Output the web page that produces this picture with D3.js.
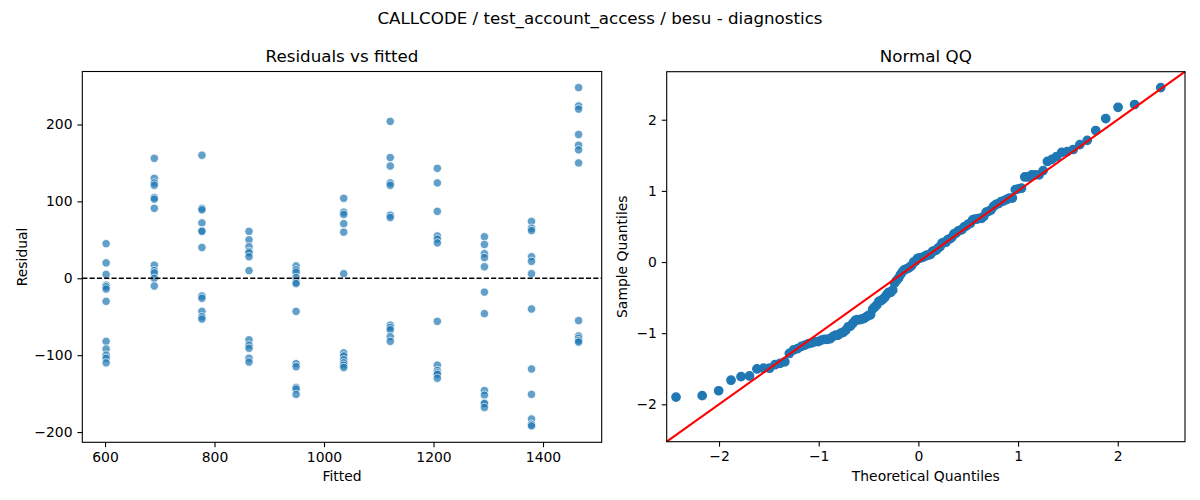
<!DOCTYPE html>
<html>
<head>
<meta charset="utf-8">
<script src="https://cdn.jsdelivr.net/npm/d3@7"></script>
<style>
  body { margin: 0; background: #fff; }
  text { font-family: "DejaVu Sans", sans-serif; fill: #000; }
</style>
</head>
<body>
<div id="chart"></div>
<script>
// Fitted levels (x positions of the residual columns)
const fitted = [602, 690, 777, 863, 949, 1036, 1121, 1207, 1293, 1379, 1465];

// Residuals at each fitted level
const residuals = [
  [45, 20, 5, -9, -11, -14, -30, -82, -92, -100, -104, -110],
  [156, 130, 124, 121, 105, 103, 91, 17, 10, 7, 0, -10],
  [160, 91, 89, 72, 62, 61, 40, -23, -26, -43, -50, -53],
  [61, 50, 41, 35, 33, 28, 10, -80, -87, -91, -104, -109],
  [16, 11, 8, 1, -5, -7, -43, -111, -115, -142, -144, -151],
  [104, 86, 83, 71, 60, 6, -97, -101, -106, -110, -113, -116],
  [204, 157, 146, 124, 121, 82, 79, -61, -64, -67, -76, -82],
  [143, 124, 87, 55, 51, 46, -56, -113, -120, -123, -125, -130],
  [54, 44, 32, 27, 15, -18, -46, -146, -152, -162, -163, -168],
  [74, 65, 62, 28, 22, 6, -40, -118, -151, -183, -190, -192],
  [248, 224, 220, 187, 173, 167, 150, -55, -75, -78, -81, -83]
];

// Tick labels
const residXTicks = [600, 800, 1000, 1200, 1400];
const residYTicks = [-200, -100, 0, 100, 200];
const qqTicks = [-2, -1, 0, 1, 2];

const title = 'CALLCODE / test_account_access / besu - diagnostics';

// Flatten residuals into points
const points = [];
fitted.forEach((f, i) => residuals[i].forEach(r => points.push({ fitted: f, resid: r })));

// Normal QQ: scaled sorted residuals vs normal quantiles
function normInv(p) {
  const a = [-3.969683028665376e+01, 2.209460984245205e+02, -2.759285104469687e+02, 1.383577518672690e+02, -3.066479806614716e+01, 2.506628277459239e+00];
  const b = [-5.447609879822406e+01, 1.615858368580409e+02, -1.556989798598866e+02, 6.680131188771972e+01, -1.328068155288572e+01];
  const c = [-7.784894002430293e-03, -3.223964580411365e-01, -2.400758277161838e+00, -2.549732539343734e+00, 4.374664141464968e+00, 2.938163982698783e+00];
  const d = [7.784695709041462e-03, 3.224671290700398e-01, 2.445134137142996e+00, 3.754408661907416e+00];
  const plow = 0.02425;
  let q, r;
  if (p < plow) {
    q = Math.sqrt(-2 * Math.log(p));
    return (((((c[0] * q + c[1]) * q + c[2]) * q + c[3]) * q + c[4]) * q + c[5]) /
      ((((d[0] * q + d[1]) * q + d[2]) * q + d[3]) * q + 1);
  } else if (p <= 1 - plow) {
    q = p - 0.5; r = q * q;
    return (((((a[0] * r + a[1]) * r + a[2]) * r + a[3]) * r + a[4]) * r + a[5]) * q /
      (((((b[0] * r + b[1]) * r + b[2]) * r + b[3]) * r + b[4]) * r + 1);
  }
  q = Math.sqrt(-2 * Math.log(1 - p));
  return -(((((c[0] * q + c[1]) * q + c[2]) * q + c[3]) * q + c[4]) * q + c[5]) /
    ((((d[0] * q + d[1]) * q + d[2]) * q + d[3]) * q + 1);
}

const allResid = points.map(d => d.resid).sort(d3.ascending);
const n = allResid.length;
// residual scale (root mean square, residuals are centred on zero)
const scale = Math.sqrt(d3.sum(allResid, r => r * r) / n);
const qq = allResid.map((r, i) => ({ theo: normInv((i + 1) / (n + 1)), sample: r / scale }));

// SVG
const svgWidth = 1200, svgHeight = 500;
const svg = d3.select('#chart').append('svg')
  .attr('width', svgWidth).attr('height', svgHeight);

const blue = '#1f77b4';
const tickFont = '13.9px';

svg.append('text')
  .attr('x', 600).attr('y', 24)
  .attr('text-anchor', 'middle')
  .style('font-size', '16.7px')
  .text(title);

function styleAxis(g) {
  g.select('.domain').remove();
  g.selectAll('.tick line').attr('stroke', '#000').attr('stroke-width', 1.1);
  g.selectAll('.tick text')
    .style('font-size', tickFont)
    .style('font-family', '"DejaVu Sans", sans-serif')
    .attr('fill', '#000');
}

function frame(box, titleText, xLabel, yLabel, yLabelX) {
  const cx = (box.x0 + box.x1) / 2;
  svg.append('text')
    .attr('x', cx).attr('y', 62)
    .attr('text-anchor', 'middle')
    .style('font-size', '16.7px')
    .text(titleText);
  svg.append('text')
    .attr('x', cx).attr('y', 481)
    .attr('text-anchor', 'middle')
    .style('font-size', tickFont)
    .text(xLabel);
  svg.append('text')
    .attr('transform', `translate(${yLabelX}, ${(box.y0 + box.y1) / 2}) rotate(-90)`)
    .attr('text-anchor', 'middle')
    .style('font-size', tickFont)
    .text(yLabel);
}

function spine(box) {
  svg.append('rect')
    .attr('x', box.x0).attr('y', box.y0)
    .attr('width', box.x1 - box.x0).attr('height', box.y1 - box.y0)
    .attr('fill', 'none').attr('stroke', '#000').attr('stroke-width', 1.1);
}

// ---- Left panel: residuals vs fitted
const L = { x0: 82.3, x1: 601.7, y0: 71.5, y1: 442.3 };
const xRes = d3.scaleLinear().domain([558.5, 1507.2]).range([L.x0, L.x1]);
const yRes = d3.scaleLinear().domain([-213.3, 268.9]).range([L.y1, L.y0]);

svg.append('g')
  .attr('transform', `translate(0, ${L.y1})`)
  .call(d3.axisBottom(xRes).tickValues(residXTicks).tickSize(4.9).tickPadding(4.9).tickFormat(d3.format('d')))
  .call(styleAxis);
svg.append('g')
  .attr('transform', `translate(${L.x0}, 0)`)
  .call(d3.axisLeft(yRes).tickValues(residYTicks).tickSize(4.9).tickPadding(4.9).tickFormat(d3.format('d')))
  .call(styleAxis);

svg.append('g')
  .selectAll('circle')
  .data(points)
  .enter()
  .append('circle')
  .attr('cx', d => xRes(d.fitted))
  .attr('cy', d => yRes(d.resid))
  .attr('r', 4.17)
  .attr('fill', blue).attr('fill-opacity', 0.7)
  .attr('stroke', '#fff').attr('stroke-opacity', 0.7).attr('stroke-width', 1);

svg.append('line')
  .attr('x1', L.x0).attr('x2', L.x1)
  .attr('y1', yRes(0)).attr('y2', yRes(0))
  .attr('stroke', '#000').attr('stroke-width', 1.39)
  .attr('stroke-dasharray', '5.1,2.2');

spine(L);
frame(L, 'Residuals vs fitted', 'Fitted', 'Residual', 27);

// ---- Right panel: normal QQ
const R = { x0: 666.7, x1: 1185, y0: 71.7, y1: 441.7 };
const qqLim = [-2.525, 2.675];
const xQQ = d3.scaleLinear().domain(qqLim).range([R.x0, R.x1]);
const yQQ = d3.scaleLinear().domain(qqLim).range([R.y1, R.y0]);

svg.append('g')
  .attr('transform', `translate(0, ${R.y1})`)
  .call(d3.axisBottom(xQQ).tickValues(qqTicks).tickSize(4.9).tickPadding(4.9).tickFormat(d3.format('d')))
  .call(styleAxis);
svg.append('g')
  .attr('transform', `translate(${R.x0}, 0)`)
  .call(d3.axisLeft(yQQ).tickValues(qqTicks).tickSize(4.9).tickPadding(4.9).tickFormat(d3.format('d')))
  .call(styleAxis);

svg.append('g')
  .selectAll('circle')
  .data(qq)
  .enter()
  .append('circle')
  .attr('cx', d => xQQ(d.theo))
  .attr('cy', d => yQQ(d.sample))
  .attr('r', 4.17)
  .attr('fill', blue)
  .attr('stroke', blue).attr('stroke-width', 1.39);

// 45 degree reference line
svg.append('line')
  .attr('x1', xQQ(qqLim[0])).attr('y1', yQQ(qqLim[0]))
  .attr('x2', xQQ(qqLim[1])).attr('y2', yQQ(qqLim[1]))
  .attr('stroke', 'red').attr('stroke-width', 2.08);

spine(R);
frame(R, 'Normal QQ', 'Theoretical Quantiles', 'Sample Quantiles', 627);
</script>
</body>
</html>
